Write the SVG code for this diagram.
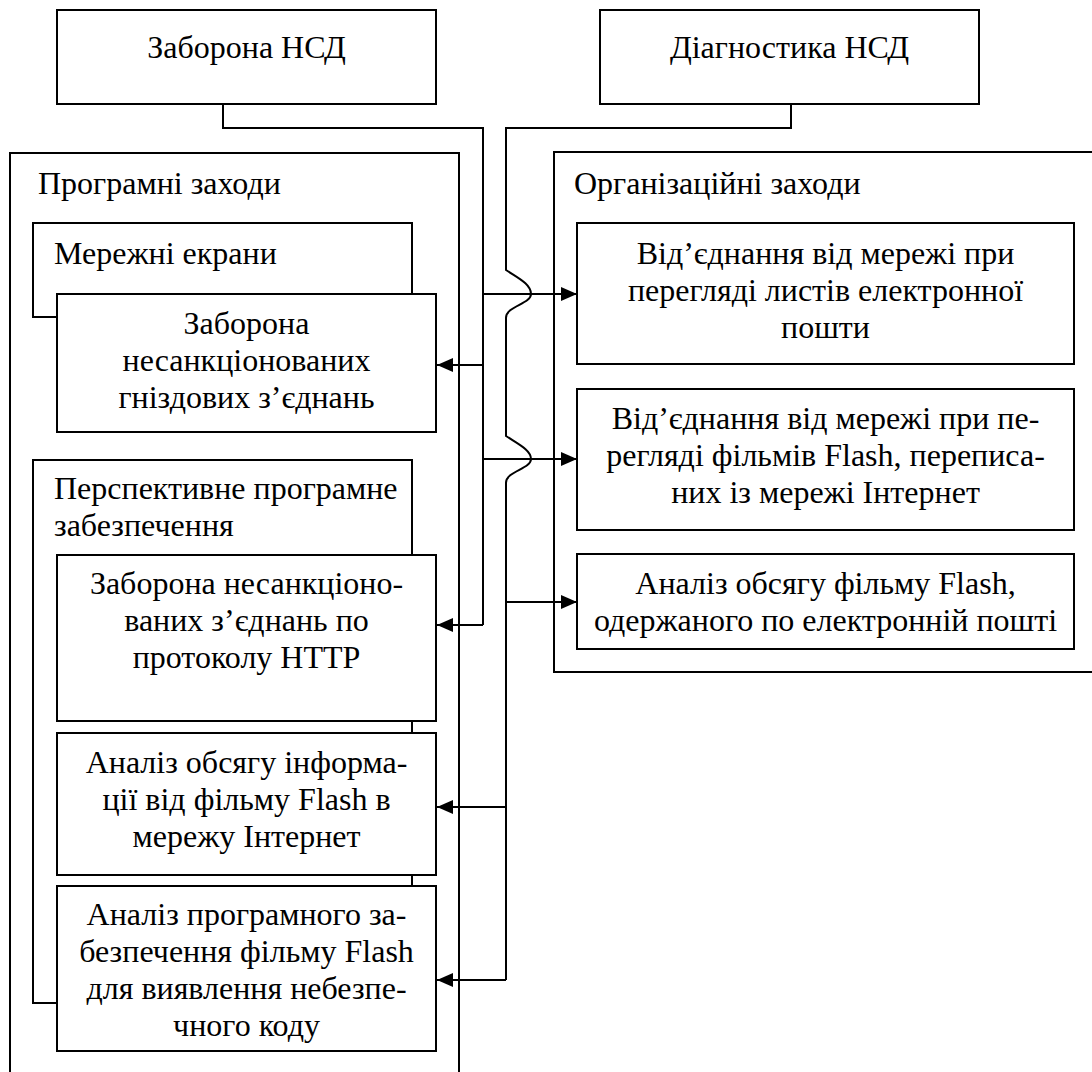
<svg xmlns="http://www.w3.org/2000/svg" width="1092" height="1072" viewBox="0 0 1092 1072">
<style>
.b{fill:#fff;stroke:#000;stroke-width:2}
.t{font-family:"Liberation Serif","Times New Roman",serif;font-size:32px;fill:#000}
.c{text-anchor:middle}
.w{fill:none;stroke:#000;stroke-width:2}
</style>
<defs>
<marker id="ar" markerUnits="userSpaceOnUse" markerWidth="18" markerHeight="18" viewBox="0 0 18 18" refX="16" refY="9" orient="auto">
<path d="M0,2 L16,9 L0,16 Z" fill="#000"/>
</marker>
</defs>
<rect width="1092" height="1072" fill="#fff"/>

<g id="outer-left">
<rect class="b" x="10" y="153" width="449" height="940"/>
<text class="t" x="38" y="194">Програмні заходи</text>
</g>
<g id="outer-right">
<rect class="b" x="554" y="152" width="560" height="520"/>
<text class="t" x="574" y="194">Організаційні заходи</text>
</g>

<g id="zaborona-nsd">
<rect class="b" x="57" y="10" width="379" height="94"/>
<text class="t c" x="246.5" y="58">Заборона НСД</text>
</g>
<g id="diagnostyka-nsd">
<rect class="b" x="600" y="10" width="379" height="94"/>
<text class="t c" x="789.5" y="58">Діагностика НСД</text>
</g>

<g id="merezhni-ekrany">
<rect class="b" x="33" y="223" width="379" height="94"/>
<text class="t" x="54" y="264">Мережні екрани</text>
</g>
<g id="zaborona-gnizd">
<rect class="b" x="57" y="294" width="379" height="138"/>
<text class="t c" x="246.5" y="334">Заборона</text>
<text class="t c" x="246.5" y="371">несанкціонованих</text>
<text class="t c" x="246.5" y="408">гніздових з’єднань</text>
</g>

<g id="perspektyvne">
<rect class="b" x="33" y="460" width="379" height="543"/>
<text class="t" x="54" y="499">Перспективне програмне</text>
<text class="t" x="54" y="536">забезпечення</text>
</g>
<g id="zaborona-http">
<rect class="b" x="57" y="555" width="379" height="166"/>
<text class="t c" x="246.5" y="594">Заборона несанкціоно-</text>
<text class="t c" x="246.5" y="631">ваних з’єднань по</text>
<text class="t c" x="246.5" y="668">протоколу HTTP</text>
</g>
<g id="analiz-info">
<rect class="b" x="57" y="733" width="379" height="142"/>
<text class="t c" x="246.5" y="773">Аналіз обсягу інформа-</text>
<text class="t c" x="246.5" y="810">ції від фільму Flash в</text>
<text class="t c" x="246.5" y="847">мережу Інтернет</text>
</g>
<g id="analiz-prog">
<rect class="b" x="57" y="886" width="379" height="165"/>
<text class="t c" x="246.5" y="925">Аналіз програмного за-</text>
<text class="t c" x="246.5" y="962">безпечення фільму Flash</text>
<text class="t c" x="246.5" y="999">для виявлення небезпе-</text>
<text class="t c" x="246.5" y="1036">чного коду</text>
</g>

<g id="vid-poshta">
<rect class="b" x="577" y="223" width="497" height="141"/>
<text class="t c" x="825.5" y="264">Від’єднання від мережі при</text>
<text class="t c" x="825.5" y="301">перегляді листів електронної</text>
<text class="t c" x="825.5" y="338">пошти</text>
</g>
<g id="vid-flash">
<rect class="b" x="577" y="389" width="497" height="141"/>
<text class="t c" x="825.5" y="429">Від’єднання від мережі при пе-</text>
<text class="t c" x="825.5" y="466">регляді фільмів Flash, переписа-</text>
<text class="t c" x="825.5" y="503">них із мережі Інтернет</text>
</g>
<g id="analiz-flash">
<rect class="b" x="577" y="554" width="497" height="95"/>
<text class="t c" x="825.5" y="594">Аналіз обсягу фільму Flash,</text>
<text class="t c" x="825.5" y="631">одержаного по електронній пошті</text>
</g>

<g id="connectors">
<path class="w" d="M223,104 V128 H483 V625"/>
<path class="w" d="M483,294 H577" marker-end="url(#ar)"/>
<path class="w" d="M483,365 H437" marker-end="url(#ar)"/>
<path class="w" d="M483,459 H577" marker-end="url(#ar)"/>
<path class="w" d="M483,625 H437" marker-end="url(#ar)"/>
<path class="w" d="M791,104 V128 H506 V270 C518,278 531,284 531,294 C531,304 506,306 506,318 V436 C518,444 531,450 531,459 C531,469 506,471 506,483 V980"/>
<path class="w" d="M506,602 H577" marker-end="url(#ar)"/>
<path class="w" d="M506,807 H437" marker-end="url(#ar)"/>
<path class="w" d="M506,980 H437" marker-end="url(#ar)"/>
</g>
</svg>
